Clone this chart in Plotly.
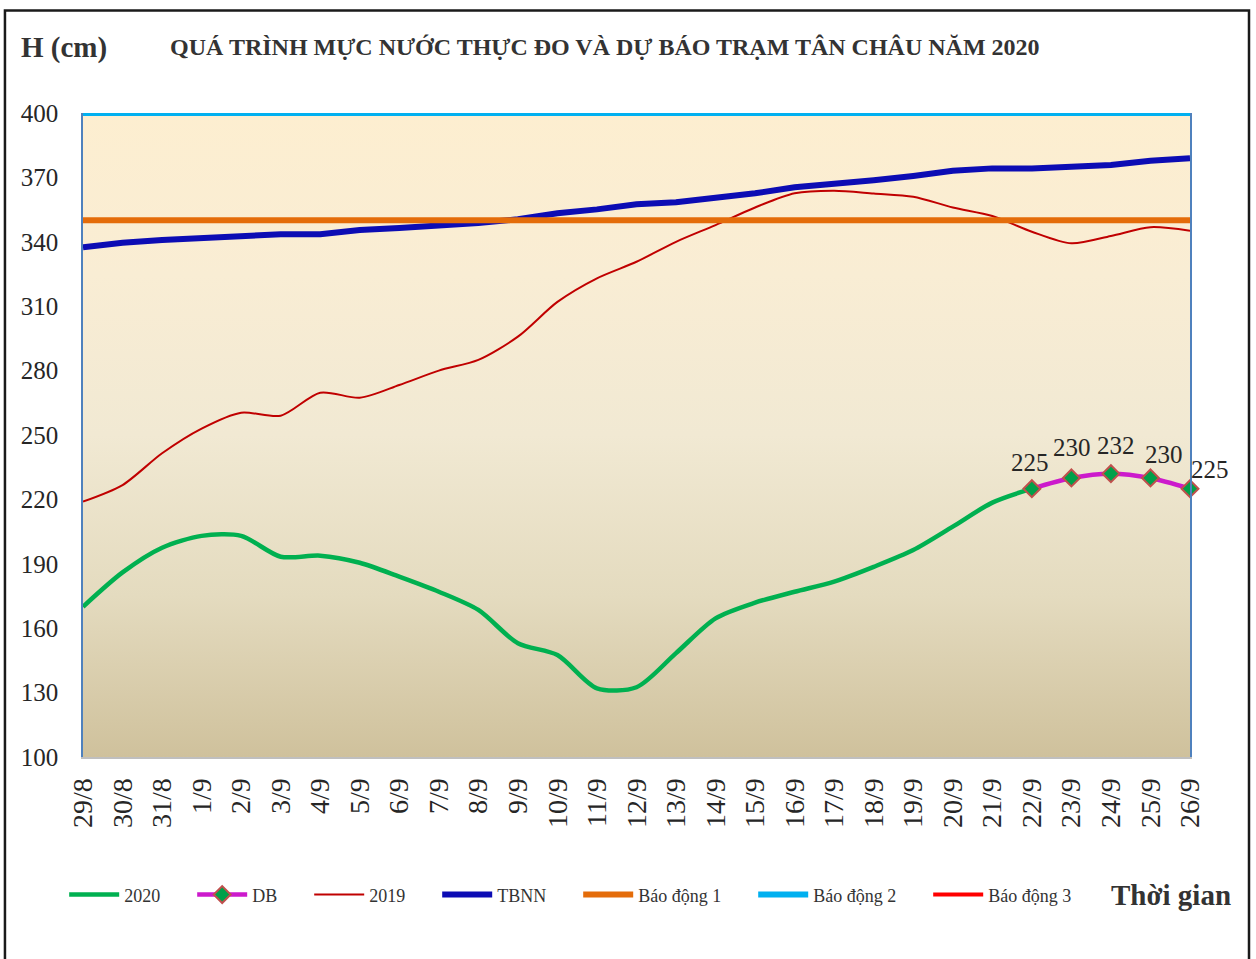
import plotly.graph_objects as go

# ---------------- data ----------------
DATES = ["29/8", "30/8", "31/8", "1/9", "2/9", "3/9", "4/9", "5/9", "6/9", "7/9",
         "8/9", "9/9", "10/9", "11/9", "12/9", "13/9", "14/9", "15/9", "16/9", "17/9",
         "18/9", "19/9", "20/9", "21/9", "22/9", "23/9", "24/9", "25/9", "26/9"]

H_2020 = [170, 186, 197.5, 203, 203, 193.3, 193.8, 190.5, 184, 177,
          168.5, 153, 147.5, 132, 132.5, 148.4, 164.6, 171.9, 177, 181.7,
          188.6, 196.4, 207.3, 218.5, 225]

DB_DATES = ["22/9", "23/9", "24/9", "25/9", "26/9"]
DB_VALUES = [225, 230, 232, 230, 225]

H_2019 = [219, 226.7, 241.5, 253, 260.4, 259, 269.7, 267.4, 273.3, 280,
          285, 295.8, 312, 323, 330.7, 340, 347.8, 356, 362.6, 363.8,
          362.5, 361, 356, 352, 344.7, 339.3, 342.7, 346.8, 345.2]

TBNN = [337.4, 339.6, 340.8, 341.9, 342.7, 343.5, 343.5, 345.5, 346.4, 347.4,
        348.8, 350.5, 353.3, 355.1, 357.5, 358.4, 360.3, 362.6, 365.4, 366.9,
        368.7, 370.7, 373.1, 374.2, 374.2, 375, 375.8, 377.8, 378.9]

BAO_DONG_1 = 350
BAO_DONG_2 = 400
BAO_DONG_3 = 450

Y_MIN, Y_MAX, Y_STEP = 100, 400, 30

TITLE = "QUÁ TRÌNH MỰC NƯỚC THỰC ĐO VÀ DỰ BÁO TRẠM TÂN CHÂU NĂM 2020"

# ---------------- style ----------------
FONT = "Liberation Serif, Times New Roman, serif"
TXT = "#262626"
PAD = "\u00a0" * 6

fig = go.Figure()

# gradient background of the plot area
fig.add_trace(go.Scatter(
    x=[DATES[0], DATES[-1], DATES[-1], DATES[0], DATES[0]],
    y=[Y_MIN, Y_MIN, Y_MAX, Y_MAX, Y_MIN],
    mode="lines", fill="toself", line=dict(width=0),
    fillgradient=dict(type="vertical", start=Y_MIN, stop=Y_MAX,
                      colorscale=[[0, "#CFC19C"], [0.25, "#E4DBBF"],
                                  [0.5, "#F1E9D3"], [0.75, "#F9EDD4"],
                                  [1, "#FDEED0"]]),
    showlegend=False, hoverinfo="skip"))

fig.add_trace(go.Scatter(
    x=DATES[:len(H_2020)], y=H_2020, name="2020" + PAD, mode="lines",
    line=dict(color="#00B050", width=4.5, shape="spline", smoothing=0.8)))

fig.add_trace(go.Scatter(
    x=DB_DATES, y=DB_VALUES, name="DB" + PAD, mode="lines+markers",
    line=dict(color="#CC1ACC", width=4.5, shape="spline", smoothing=0.8),
    marker=dict(symbol="diamond", size=13, color="#00A04A",
                line=dict(color="#C0504D", width=2)),
    cliponaxis=False))

fig.add_trace(go.Scatter(
    x=DATES, y=H_2019, name="2019" + PAD, mode="lines",
    line=dict(color="#C00000", width=2, shape="spline", smoothing=0.8)))

fig.add_trace(go.Scatter(
    x=DATES, y=TBNN, name="TBNN" + PAD, mode="lines",
    line=dict(color="#0C0CB4", width=6)))

fig.add_trace(go.Scatter(
    x=DATES, y=[BAO_DONG_1] * len(DATES), name="Báo động 1" + PAD, mode="lines",
    line=dict(color="#E46C0A", width=6)))

fig.add_trace(go.Scatter(
    x=DATES, y=[BAO_DONG_2] * len(DATES), name="Báo động 2" + PAD, mode="lines",
    line=dict(color="#00B0F0", width=6)))

fig.add_trace(go.Scatter(
    x=DATES, y=[BAO_DONG_3] * len(DATES), name="Báo động 3", mode="lines",
    line=dict(color="#FF0000", width=4)))

# data labels for the forecast
x_shifts = [-2, 1, 5, 14, 20]
y_shifts = [11, 15, 13, 8, 4]
annotations = []
for d, v, xs, ys in zip(DB_DATES, DB_VALUES, x_shifts, y_shifts):
    annotations.append(dict(x=d, y=v, text=str(v), showarrow=False,
                            xanchor="center", yanchor="bottom",
                            xshift=xs, yshift=ys,
                            font=dict(family=FONT, size=25, color=TXT)))

annotations += [
    dict(text="<b>" + TITLE + "</b>", xref="paper", yref="paper",
         x=0.4715, y=1.1025, xanchor="center", yanchor="middle", showarrow=False,
         font=dict(family=FONT, size=24, color="#333333")),
    dict(text="<b>H (cm)</b>", xref="paper", yref="paper",
         x=-0.0172, y=1.101, xanchor="center", yanchor="middle", showarrow=False,
         font=dict(family=FONT, size=29, color="#333333")),
    dict(text="<b>Thời gian</b>", xref="paper", yref="paper",
         x=0.983, y=-0.214, xanchor="center", yanchor="middle", showarrow=False,
         font=dict(family=FONT, size=29, color="#333333")),
]

# plot area at x 83..1190, y 113..757 of the window
fig.update_layout(
    width=1256, height=959,
    margin=dict(l=83, r=66, t=113, b=202),
    paper_bgcolor="white", plot_bgcolor="white",
    font=dict(family=FONT, color=TXT),
    showlegend=True,
    legend=dict(orientation="h", x=-0.017, y=-0.214, xanchor="left",
                yanchor="middle", font=dict(family=FONT, size=18, color="#333333"),
                bgcolor="rgba(0,0,0,0)", itemwidth=50),
    annotations=annotations,
    shapes=[dict(type="rect", xref="paper", yref="paper",
                 x0=-0.0705, x1=1.0533, y0=-0.34, y1=1.159,
                 line=dict(color="#1A1A1A", width=2.5), fillcolor="rgba(0,0,0,0)",
                 layer="above")],
    hovermode=False,
)

fig.update_xaxes(
    type="category", categoryorder="array", categoryarray=DATES,
    range=[0, len(DATES) - 1], showgrid=False, zeroline=False,
    showline=True, linecolor="#BFBFBF", linewidth=2,
    ticks="outside", ticklen=8, tickcolor="rgba(0,0,0,0)",
    tickangle=-90, tickfont=dict(family=FONT, size=28, color=TXT))

fig.update_yaxes(
    range=[Y_MIN, Y_MAX], tick0=Y_MIN, dtick=Y_STEP, showgrid=False,
    zeroline=False, showline=True, mirror=True, linecolor="#4F81BD", linewidth=1.5,
    ticks="outside", ticklen=18, tickcolor="rgba(0,0,0,0)",
    tickfont=dict(family=FONT, size=25, color=TXT))

fig.write_html(
    "out.html",
    config={"displayModeBar": False},
    post_script="document.body.style.margin='0px';"
                "document.body.style.overflow='hidden';")
